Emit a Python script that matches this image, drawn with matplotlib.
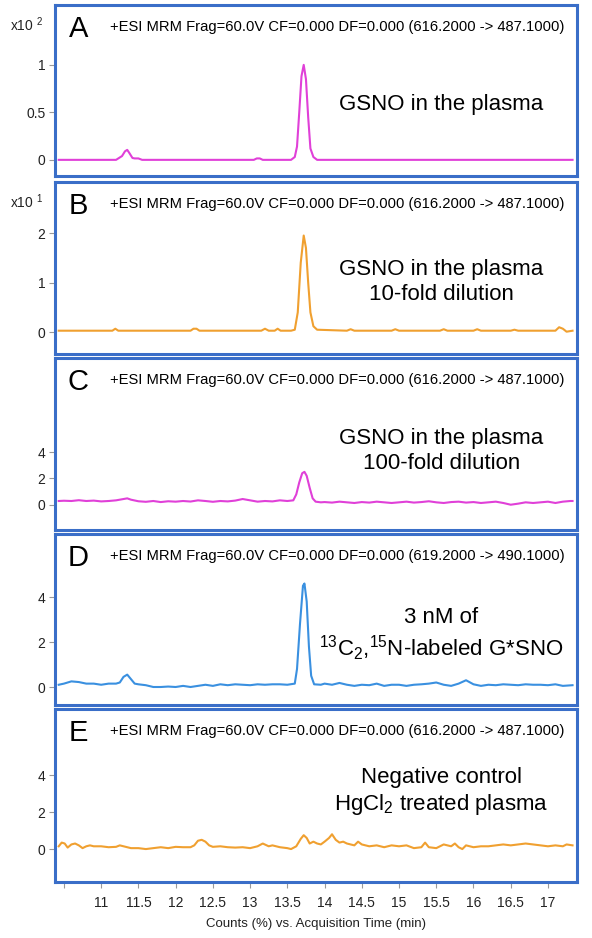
import matplotlib
matplotlib.use("Agg")
import matplotlib.pyplot as plt

plt.rcParams['font.family'] = ['Liberation Sans', 'DejaVu Sans']
plt.rcParams['mathtext.default'] = 'regular'

# ---- data (time in min, counts in panel units) ----
tA = [10.43, 11.20, 11.28, 11.32, 11.35, 11.38, 11.42, 11.45, 11.50, 11.55, 13.05, 13.09, 13.13, 13.17,
      13.55, 13.60, 13.63, 13.66, 13.69, 13.72, 13.75, 13.78, 13.81, 13.85, 13.90, 17.33]
yA = [0, 0, 0.04, 0.09, 0.105, 0.07, 0.02, 0.015, 0.015, 0, 0, 0.015, 0.015, 0,
      0, 0.03, 0.14, 0.5, 0.88, 1.0, 0.85, 0.45, 0.12, 0.03, 0, 0]

tB = [10.43, 11.15, 11.19, 11.23, 12.20, 12.24, 12.28, 12.32, 13.15, 13.20, 13.25, 13.33, 13.37, 13.41,
      13.55, 13.60, 13.64, 13.68, 13.72, 13.75, 13.78, 13.81, 13.85, 13.90, 14.30, 14.35, 14.40,
      14.90, 14.95, 15.00, 15.55, 15.60, 15.65, 16.00, 16.05, 16.10, 16.50, 16.55, 16.60,
      17.10, 17.15, 17.20, 17.25, 17.33]
yB = [0.03, 0.03, 0.07, 0.03, 0.03, 0.07, 0.07, 0.03, 0.03, 0.07, 0.03, 0.03, 0.07, 0.03,
      0.03, 0.05, 0.4, 1.4, 1.95, 1.7, 1.0, 0.4, 0.12, 0.05, 0.03, 0.06, 0.03,
      0.03, 0.06, 0.03, 0.03, 0.06, 0.03, 0.03, 0.06, 0.03, 0.03, 0.05, 0.03,
      0.03, 0.1, 0.07, 0.01, 0.03]

tC = [10.43, 10.5, 10.6, 10.7, 10.8, 10.9, 11.0, 11.1, 11.2, 11.3, 11.35, 11.4, 11.5, 11.6, 11.7,
      11.8, 11.9, 12.0, 12.1, 12.2, 12.3, 12.4, 12.5, 12.6, 12.7, 12.8, 12.9, 13.0, 13.1, 13.2,
      13.3, 13.4, 13.5, 13.58, 13.62, 13.66, 13.70, 13.73, 13.76, 13.80, 13.84, 13.88, 13.95,
      14.0, 14.1, 14.2, 14.3, 14.4, 14.5, 14.6, 14.7, 14.8, 14.9, 15.0, 15.1, 15.2, 15.3, 15.4,
      15.5, 15.6, 15.7, 15.8, 15.9, 16.0, 16.1, 16.2, 16.3, 16.4, 16.5, 16.6, 16.7, 16.8, 16.9,
      17.0, 17.1, 17.2, 17.3, 17.33]
yC = [0.3, 0.32, 0.3, 0.36, 0.3, 0.33, 0.27, 0.3, 0.35, 0.45, 0.5, 0.4, 0.28, 0.24, 0.3,
      0.22, 0.28, 0.25, 0.3, 0.26, 0.35, 0.3, 0.24, 0.3, 0.27, 0.33, 0.45, 0.35, 0.25, 0.3,
      0.27, 0.35, 0.3, 0.35, 0.8, 1.7, 2.4, 2.5, 2.2, 1.3, 0.5, 0.25, 0.2,
      0.22, 0.18, 0.25, 0.2, 0.15, 0.22, 0.18, 0.25, 0.2, 0.15, 0.2, 0.25, 0.18, 0.22, 0.28,
      0.2, 0.15, 0.22, 0.25, 0.18, 0.22, 0.15, 0.2, 0.25, 0.15, 0.02, 0.1, 0.2, 0.15, 0.2,
      0.25, 0.15, 0.25, 0.3, 0.3]

tD = [10.43, 10.5, 10.6, 10.7, 10.8, 10.9, 11.0, 11.1, 11.2, 11.25, 11.3, 11.35, 11.4, 11.45, 11.5,
      11.6, 11.7, 11.8, 11.9, 12.0, 12.1, 12.2, 12.3, 12.4, 12.5, 12.6, 12.7, 12.8, 12.9, 13.0,
      13.1, 13.2, 13.3, 13.4, 13.5, 13.6, 13.63, 13.67, 13.71, 13.73, 13.76, 13.79, 13.82, 13.86,
      13.95, 14.0, 14.1, 14.2, 14.3, 14.4, 14.5, 14.6, 14.7, 14.8, 14.9, 15.0, 15.1, 15.2, 15.3,
      15.4, 15.5, 15.6, 15.7, 15.8, 15.9, 16.0, 16.1, 16.2, 16.3, 16.4, 16.5, 16.6, 16.7, 16.8,
      16.9, 17.0, 17.1, 17.2, 17.33]
yD = [0.1, 0.15, 0.25, 0.22, 0.15, 0.15, 0.1, 0.15, 0.15, 0.2, 0.45, 0.55, 0.35, 0.15, 0.12,
      0.08, 0.0, 0.0, 0.02, 0.0, 0.05, 0.0, 0.05, 0.1, 0.05, 0.12, 0.08, 0.12, 0.1, 0.08,
      0.12, 0.1, 0.12, 0.12, 0.1, 0.15, 0.8, 2.8, 4.5, 4.6, 3.8, 1.8, 0.5, 0.12,
      0.1, 0.15, 0.1, 0.18, 0.1, 0.05, 0.1, 0.08, 0.15, 0.05, 0.1, 0.1, 0.05, 0.1, 0.12,
      0.15, 0.2, 0.1, 0.05, 0.15, 0.3, 0.12, 0.05, 0.1, 0.08, 0.12, 0.1, 0.08, 0.12, 0.1,
      0.1, 0.08, 0.12, 0.05, 0.08]

tE = [10.43, 10.47, 10.51, 10.55, 10.6, 10.65, 10.7, 10.75, 10.8, 10.85, 10.9, 11.0, 11.1, 11.2,
      11.25, 11.3, 11.4, 11.5, 11.6, 11.7, 11.8, 11.9, 12.0, 12.1, 12.2, 12.25, 12.3, 12.35,
      12.4, 12.45, 12.5, 12.6, 12.7, 12.8, 12.9, 13.0, 13.1, 13.17, 13.25, 13.3, 13.4, 13.5,
      13.55, 13.62, 13.68, 13.72, 13.76, 13.8, 13.85, 13.9, 13.95, 14.0, 14.06, 14.1, 14.15,
      14.2, 14.25, 14.3, 14.4, 14.45, 14.5, 14.6, 14.7, 14.8, 14.9, 15.0, 15.1, 15.2, 15.3,
      15.35, 15.4, 15.5, 15.6, 15.7, 15.75, 15.8, 15.85, 15.9, 16.0, 16.1, 16.2, 16.3, 16.4,
      16.5, 16.6, 16.7, 16.8, 16.9, 17.0, 17.1, 17.2, 17.25, 17.33]
yE = [0.15, 0.35, 0.3, 0.08, 0.25, 0.3, 0.2, 0.05, 0.15, 0.2, 0.15, 0.15, 0.1, 0.12,
      0.2, 0.15, 0.05, 0.05, 0.0, 0.05, 0.1, 0.05, 0.12, 0.1, 0.1, 0.2, 0.45, 0.5,
      0.4, 0.2, 0.12, 0.15, 0.1, 0.08, 0.1, 0.05, 0.15, 0.3, 0.15, 0.2, 0.1, 0.05,
      0.0, 0.15, 0.55, 0.75, 0.6, 0.3, 0.4, 0.3, 0.25, 0.4, 0.6, 0.8, 0.5,
      0.35, 0.4, 0.3, 0.2, 0.4, 0.25, 0.15, 0.2, 0.1, 0.2, 0.15, 0.2, 0.05, 0.1,
      0.35, 0.1, 0.05, 0.25, 0.15, 0.3, 0.1, 0.0, 0.2, 0.1, 0.15, 0.15, 0.2, 0.25,
      0.2, 0.25, 0.3, 0.25, 0.2, 0.15, 0.2, 0.15, 0.25, 0.2]

letters = ['A', 'B', 'C', 'D', 'E']
headers = ['+ESI MRM Frag=60.0V CF=0.000 DF=0.000 (616.2000 -> 487.1000)',
           '+ESI MRM Frag=60.0V CF=0.000 DF=0.000 (616.2000 -> 487.1000)',
           '+ESI MRM Frag=60.0V CF=0.000 DF=0.000 (616.2000 -> 487.1000)',
           '+ESI MRM Frag=60.0V CF=0.000 DF=0.000 (619.2000 -> 490.1000)',
           '+ESI MRM Frag=60.0V CF=0.000 DF=0.000 (616.2000 -> 487.1000)']
notes = ['GSNO in the plasma',
         'GSNO in the plasma\n10-fold dilution',
         'GSNO in the plasma\n100-fold dilution',
         '3 nM of\n$^{13}$C$_2$,$^{15}$N-labeled G*SNO',
         'Negative control\nHgCl$_2$ treated plasma']
yticks = [[0, 0.5, 1], [0, 1, 2], [0, 2, 4], [0, 2, 4], [0, 2, 4]]
yticklabels = [['0', '0.5', '1'], ['0', '1', '2'], ['0', '2', '4'], ['0', '2', '4'], ['0', '2', '4']]
ylims = [(-0.17, 1.63), (-0.44, 3.03), (-1.89, 11.1), (-0.8, 6.8), (-1.78, 7.57)]
xticks = [10.5, 11, 11.5, 12, 12.5, 13, 13.5, 14, 14.5, 15, 15.5, 16, 16.5, 17]
xticklabels = ['', '11', '11.5', '12', '12.5', '13', '13.5', '14', '14.5', '15', '15.5', '16', '16.5', '17']

series = [(tA, yA), (tB, yB), (tC, yC), (tD, yD), (tE, yE)]
colors = ['#e040d8', '#f0a030', '#e040d8', '#3a90e0', '#f0a030']
note_y = [0.42, 0.42, 0.46, 0.41, 0.52]

# axes boxes in pixels (top, bottom)
boxes = [(5, 176), (182, 354), (358, 530), (534, 705), (709, 882)]
W, H = 592, 938
frame = '#3a6ec8'

fig = plt.figure(figsize=(W / 100, H / 100), dpi=100)
for i in range(5):
    top, bot = boxes[i]
    ax = fig.add_axes([55 / W, (H - bot) / H, 522 / W, (bot - top) / H])
    t, y = series[i]
    ax.plot(t, y, color=colors[i], lw=1.5)
    ax.set_xlim(10.38, 17.39)
    ax.set_ylim(*ylims[i])
    ax.set_yticks(yticks[i])
    ax.set_yticklabels(yticklabels[i])
    ax.tick_params(axis='y', length=4, color='#999999', labelsize=10, labelcolor='#222222', pad=3)
    ax.set_xticks(xticks)
    if i == 4:
        ax.set_xticklabels(xticklabels)
        ax.tick_params(axis='x', length=4, color='#999999', labelsize=10, labelcolor='#222222', pad=6)
        ax.set_xlabel('Counts (%) vs. Acquisition Time (min)', fontsize=9.5, color='#222222', labelpad=6)
    else:
        ax.tick_params(axis='x', bottom=False, labelbottom=False)
    for s in ax.spines.values():
        s.set_color(frame)
        s.set_linewidth(2.2)
    ax.text(0.045, 0.86, letters[i], transform=ax.transAxes, fontsize=21, ha='center', va='center')
    ax.text(0.105, 0.87, headers[i], transform=ax.transAxes, fontsize=10.6, ha='left', va='center')
    ax.text(0.74, note_y[i], notes[i], transform=ax.transAxes, fontsize=16, ha='center', va='center',
            linespacing=1.25)

fig.text(10 / W, 1 - 25 / H, 'x10 $^{2}$', fontsize=10, color='#222222', va='center')
fig.text(10 / W, 1 - 202 / H, 'x10 $^{1}$', fontsize=10, color='#222222', va='center')

fig.savefig('out.png', dpi=100)
